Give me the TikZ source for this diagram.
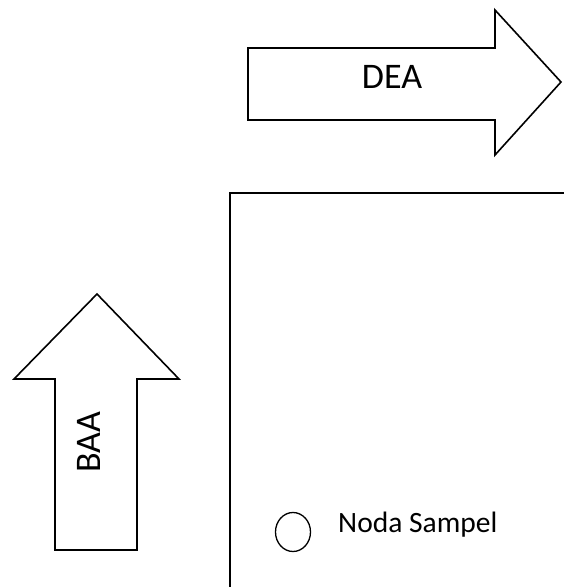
\documentclass[tikz,border=0pt]{standalone}
\usepackage{fontspec}
\setmainfont{Carlito}
\begin{document}
\begin{tikzpicture}[x=1pt,y=-1pt,
  outline/.style={draw=black,line width=1.6pt,line join=miter,fill=white},
  bigtext/.style={font=\fontsize{36}{42}\selectfont,inner sep=0pt},
  smalltext/.style={font=\fontsize{29.5}{34}\selectfont,inner sep=0pt,anchor=base west}]
\useasboundingbox (0,0) rectangle (563,587);
% DEA arrow
\draw[outline] (248,48) -- (495,48) -- (495,10) -- (561,82) -- (495,155) -- (495,120) -- (248,120) -- cycle;
\node[bigtext] (dea) at (392,77) {DEA};
% BAA arrow
\draw[outline] (55,550) -- (55,379) -- (14,379) -- (97,294) -- (179,379) -- (137,379) -- (137,550) -- cycle;
\node[bigtext,rotate=90] (baa) at (89,442) {BAA};
% box
\draw[line width=1.6pt] (230,600) -- (230,193) -- (570,193);
% sample node
\draw[line width=1.3pt] (293,532) ellipse [x radius=17.5, y radius=19.5];
\node[smalltext] (noda) at (338,532) {Noda Sampel};
\end{tikzpicture}
\end{document}
